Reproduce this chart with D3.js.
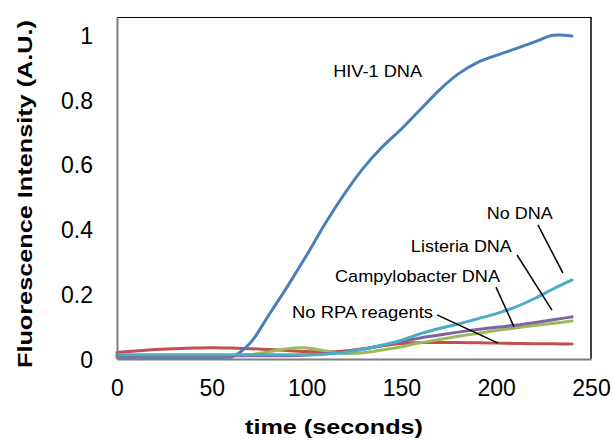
<!DOCTYPE html>
<html>
<head>
<meta charset="utf-8">
<script src="https://cdn.jsdelivr.net/npm/d3@7"></script>
<style>
  body { margin: 0; background: #fff; }
  text { font-family: "Liberation Sans", Arial, sans-serif; fill: #000; }
</style>
</head>
<body>
<script>
// time points (seconds), one reading every 10 s
var times = [0, 10, 20, 30, 40, 50, 60, 70, 80, 90, 100, 110, 120,
             130, 140, 150, 160, 170, 180, 190, 200, 210, 220, 230, 240];

// fluorescence readings
var hiv = [0.004, 0.004, 0.004, 0.004, 0.004, 0.004, 0.005, 0.048, 0.135, 0.225, 0.32, 0.42, 0.51,
           0.59, 0.655, 0.71, 0.77, 0.83, 0.88, 0.915, 0.937, 0.957, 0.978, 0.999, 0.997];
var noRpa = [0.02, 0.025, 0.029, 0.032, 0.034, 0.035, 0.034, 0.032, 0.029, 0.026, 0.023, 0.022, 0.025,
             0.032, 0.041, 0.048, 0.051, 0.051, 0.051, 0.05, 0.049, 0.048, 0.047, 0.047, 0.046];
var campy = [0.01, 0.01, 0.01, 0.01, 0.01, 0.01, 0.01, 0.013, 0.022, 0.032, 0.034, 0.025, 0.017,
             0.019, 0.028, 0.038, 0.05, 0.06, 0.07, 0.079, 0.088, 0.096, 0.103, 0.11, 0.117];
var listeria = [0.01, 0.01, 0.01, 0.01, 0.01, 0.01, 0.01, 0.01, 0.01, 0.01, 0.012, 0.016, 0.022,
                0.031, 0.042, 0.054, 0.065, 0.074, 0.083, 0.091, 0.098, 0.104, 0.112, 0.121, 0.13];
var noDna = [0.013, 0.013, 0.013, 0.013, 0.013, 0.013, 0.013, 0.013, 0.013, 0.013, 0.013, 0.015, 0.02,
             0.03, 0.043, 0.058, 0.078, 0.094, 0.108, 0.124, 0.14, 0.16, 0.186, 0.216, 0.244];

var xTicks = [0, 50, 100, 150, 200, 250];
var yTicks = [0, 0.2, 0.4, 0.6, 0.8, 1];

// drawing order: later ones sit on top
var series = [
  { name: 'No RPA reagents', values: noRpa, color: '#C0504D' },
  { name: 'HIV-1 DNA', values: hiv, color: '#4A7EBB' },
  { name: 'Campylobacter DNA', values: campy, color: '#9BBB59' },
  { name: 'Listeria DNA', values: listeria, color: '#8064A2' },
  { name: 'No DNA', values: noDna, color: '#4BACC6' }
];

// label text start (t, v) and leader line from -> to, in data units
var labels = [
  { text: 'HIV-1 DNA', at: [114, 0.87], width: 89 },
  { text: 'No DNA', at: [195, 0.432], width: 66, line: [[222, 0.414], [235.2, 0.265]] },
  { text: 'Listeria DNA', at: [155, 0.33], width: 101, line: [[211, 0.321], [229.4, 0.151]] },
  { text: 'Campylobacter DNA', at: [115, 0.238], width: 165, line: [[199.9, 0.222], [209.4, 0.099]] },
  { text: 'No RPA reagents', at: [92.3, 0.127], width: 141, line: [[168.8, 0.136], [201, 0.049]] }
];

var width = 613, height = 441;
var plotLeft = 117, plotRight = 591, plotTop = 17, plotBottom = 359;

var svg = d3.select('body').append('svg')
  .attr('width', width)
  .attr('height', height);

var x = d3.scaleLinear().domain([0, 250]).range([plotLeft, plotRight]);
var y = d3.scaleLinear().domain([0, 1.0556]).range([plotBottom, plotTop]);

// frame: dark top/right, grey axes left/bottom
svg.append('line').attr('x1', plotLeft).attr('x2', plotRight).attr('y1', plotTop + 0.5).attr('y2', plotTop + 0.5)
  .attr('stroke', '#000').attr('stroke-width', 1.2);
svg.append('line').attr('x1', plotRight).attr('x2', plotRight).attr('y1', plotTop).attr('y2', plotBottom)
  .attr('stroke', '#000').attr('stroke-width', 1.5);

var line = d3.line()
  .x(function(d) { return x(d[0]); })
  .y(function(d) { return y(d[1]); })
  .curve(d3.curveCatmullRom.alpha(0.5));

svg.selectAll('path.series')
  .data(series)
  .enter().append('path')
  .attr('class', 'series')
  .attr('fill', 'none')
  .attr('stroke', function(d) { return d.color; })
  .attr('stroke-width', 3)
  .attr('stroke-linecap', 'round')
  .attr('d', function(d) { return line(times.map(function(t, i) { return [t, d.values[i]]; })); });

// axes (no tick marks, labels only)
var xAxis = svg.append('g')
  .attr('transform', 'translate(0,' + plotBottom + ')')
  .call(d3.axisBottom(x).tickValues(xTicks).tickSize(0).tickPadding(20).tickFormat(d3.format('d')));
var yAxis = svg.append('g')
  .attr('transform', 'translate(' + plotLeft + ',0)')
  .call(d3.axisLeft(y).tickValues(yTicks).tickSize(0).tickPadding(24).tickFormat(function(d) { return String(d); }));

[xAxis, yAxis].forEach(function(g) {
  g.select('.domain').attr('stroke', '#7f7f7f').attr('stroke-width', 2);
  g.selectAll('text').style('font-size', '23px').attr('font-family', null).attr('fill', '#000');
});
xAxis.selectAll('text').attr('dy', '0.71em').attr('y', 21);
yAxis.selectAll('text').attr('dy', '0.36em');

// leader lines and labels
labels.forEach(function(l) {
  if (l.line) {
    svg.append('line')
      .attr('x1', x(l.line[0][0])).attr('y1', y(l.line[0][1]))
      .attr('x2', x(l.line[1][0])).attr('y2', y(l.line[1][1]))
      .attr('stroke', '#000').attr('stroke-width', 1.5);
  }
  svg.append('text')
    .attr('x', x(l.at[0])).attr('y', y(l.at[1]))
    .attr('textLength', l.width)
    .attr('lengthAdjust', 'spacingAndGlyphs')
    .style('font-size', '17px')
    .text(l.text);
});

// axis titles
svg.append('text')
  .attr('x', 334).attr('y', 434)
  .attr('text-anchor', 'middle')
  .attr('textLength', 178).attr('lengthAdjust', 'spacingAndGlyphs')
  .style('font-size', '21px').style('font-weight', 'bold')
  .text('time (seconds)');

svg.append('text')
  .attr('transform', 'translate(32,194) rotate(-90)')
  .attr('text-anchor', 'middle')
  .attr('textLength', 348).attr('lengthAdjust', 'spacingAndGlyphs')
  .style('font-size', '21px').style('font-weight', 'bold')
  .text('Fluorescence Intensity (A.U.)');
</script>
</body>
</html>
